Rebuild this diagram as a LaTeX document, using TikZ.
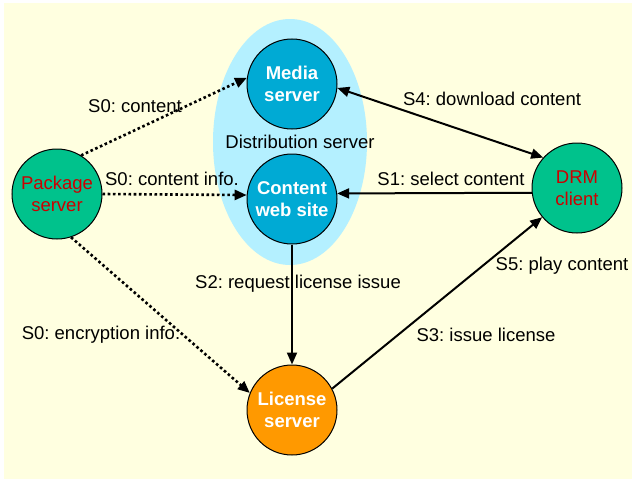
\documentclass[tikz,border=0pt]{standalone}
\usepackage{fontspec}
\setmainfont{Liberation Sans}
\usetikzlibrary{positioning,arrows.meta}
\frenchspacing

\definecolor{bgyellow}{RGB}{255,255,224}
\definecolor{distblue}{RGB}{180,240,255}
\definecolor{srvblue}{RGB}{0,170,212}
\definecolor{srvgreen}{RGB}{0,194,140}
\definecolor{srvorange}{RGB}{255,153,0}
\definecolor{txtred}{RGB}{204,0,0}

\begin{document}
\begin{tikzpicture}[x=1pt,y=-1pt,>={Triangle[length=12pt,width=10pt]},
font=\fontsize{18.5}{21.5}\selectfont,
srv/.style={circle,draw,line width=1pt,minimum size=90pt,inner sep=0pt,align=center},
hub/.style={srv,fill=srvblue,text=white,font=\fontsize{18.5}{21.5}\selectfont\bfseries},
lic/.style={hub,fill=srvorange},
ext/.style={srv,fill=srvgreen,text=txtred},
flow/.style={->,line width=2pt},
feed/.style={->,line width=2.6pt,dash pattern=on 2.6pt off 2.6pt}]
\useasboundingbox (0,0) rectangle (632,479);
\fill[bgyellow] (4,3) rectangle (632,479);
% distribution server groups media server and web site
\fill[distblue] (290,142) ellipse [x radius=77,y radius=123];
\node (dist) at (300,142) {Distribution server};

\node[hub] (media) at (292,84) {Media\\server};
\node[hub,below=24pt of media] (content) {Content\\web site};
\node[lic,below=120pt of content] (license) {License\\server};
\node[ext] (pkg) at (57,194) {Package\\server};
\node[ext] (drm) at (577,188) {DRM\\client};

% S0: packaging
\draw[feed] (pkg.58) -- (media.172);
\draw[feed] (pkg.east) -- (content.175);
\draw[feed] (pkg.-72) -- (license.158);
% S1 - S5
\draw[flow] (drm.186) -- (content.7);
\draw[flow] (content) -- (license);
\draw[flow] (license.28) -- (drm.220);
\draw[flow,<->] (media.-5) -- (drm.138);

\node (s0a) at (135,106) {S0: content};
\node (s0b) at (172,179) {S0: content info.};
\node (s0c) at (101,335) {S0: encryption info.};
\node (s1) at (451,179) {S1: select content};
\node (s2) at (298,284) {S2: request license issue};
\node (s3) at (486,335) {S3: issue license};
\node (s4) at (492,99) {S4: download content};
\node (s5) at (562,266) {S5: play content};
\end{tikzpicture}
\end{document}
